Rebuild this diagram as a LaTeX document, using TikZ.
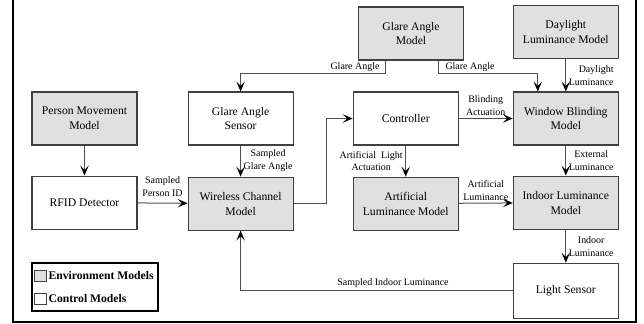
\documentclass[tikz,border=0pt]{standalone}
\usepackage{fontspec}
\setmainfont{Liberation Serif}
\usetikzlibrary{positioning,arrows.meta}
\definecolor{envgray}{HTML}{E0E0E0}
\definecolor{boxline}{HTML}{404040}
\definecolor{wire}{HTML}{505050}

\begin{document}
\begin{tikzpicture}[x=1bp,y=-1bp,
  env/.style={draw=boxline,fill=envgray,line width=1.1bp,inner sep=0pt,
              minimum width=105bp,minimum height=53bp,align=center,
              font=\fontsize{11.7}{15}\selectfont},
  ctl/.style={env,fill=white},
  lbl/.style={font=\fontsize{10}{13}\selectfont,text=black,inner sep=2.5bp,align=center},
  arr/.style={-{Stealth[length=10bp,width=8.5bp,inset=4.5bp,color=black]},wire,line width=1bp},
  swatch/.style={draw=boxline,line width=0.9bp,minimum width=12bp,minimum height=11bp,inner sep=0pt},
  legtxt/.style={font=\fontsize{11.7}{14}\selectfont\bfseries,inner sep=0pt}]
\useasboundingbox (0,0) rectangle (644,323);
% frame
\draw[line width=1.3bp] (13,0) -- (13,322) -- (636,322) -- (636,0);
% column 1
\node[env] (pmm) at (84.5,118.5) {Person Movement\\Model};
\node[ctl,below=30bp of pmm] (rfid) {RFID Detector};
% column 2
\node[ctl,right=50bp of pmm] (gas) {Glare Angle\\Sensor};
\node[env,below=31bp of gas] (wcm) {Wireless Channel\\Model};
% column 3
\node[env] (gam) at (411,33.5) {Glare Angle\\Model};
\node[ctl,right=59bp of gas] (ctrl) {Controller};
\node[env,below=31bp of ctrl] (alm) {Artificial\\Luminance Model};
% column 4
\node[env,right=54bp of ctrl] (wbm) {Window Blinding\\Model};
\node[env,above=32bp of wbm] (dlm) {Daylight\\Luminance Model};
\node[env,below=30bp of wbm] (ilm) {Indoor Luminance\\Model};
\node[ctl,below=33bp of ilm,minimum height=55bp] (ls) {Light Sensor};
% legend
\node[draw,line width=2bp,minimum width=126bp,minimum height=48bp,inner sep=0pt] (legend) at (95,287) {};
\node[swatch,fill=envgray,anchor=north west] (swenv) at ([xshift=3bp,yshift=-8bp]legend.north west) {};
\node[legtxt,right=1.5bp of swenv] (txenv) {Environment Models};
\node[swatch,fill=white,below=11bp of swenv] (swctl) {};
\node[legtxt,right=1.5bp of swctl] (txctl) {Control Models};
% arcs
\draw[arr] ([xshift=-26bp]gam.south) -- ++(0,13) node[lbl,anchor=south east,xshift=-4bp,inner sep=1bp] {Glare Angle} -| (gas.north);
\draw[arr] ([xshift=27bp]gam.south) -- ++(0,13) node[lbl,anchor=south west,xshift=6bp,inner sep=1bp] {Glare Angle} -| ([xshift=-28bp]wbm.north);
\draw[arr] (dlm) -- node[lbl,right,align=right] {Daylight\\Luminance} (wbm);
\draw[arr] (pmm) -- (rfid);
\draw[arr] (rfid) -- node[lbl,above,yshift=4bp] {Sampled\\Person ID} (wcm);
\draw[arr] (gas) -- node[lbl,right] {Sampled\\Glare Angle} (wcm);
\draw[arr] (wcm.east) -- ++(33,0) |- (ctrl.west);
\draw[arr] (ctrl) -- node[lbl,above] {Blinding\\Actuation} (wbm);
\draw[arr] (ctrl) -- node[lbl,left] {Artificial~~Light\\Actuation} (alm);
\draw[arr] (wbm) -- node[lbl,right] {External\\Luminance} (ilm);
\draw[arr] (alm) -- node[lbl,above] {Artificial\\Luminance} (ilm);
\draw[arr] (ilm) -- node[lbl,right] {Indoor\\Luminance} (ls);
\draw[arr] (ls.west) -| node[lbl,above,pos=0.22] {Sampled Indoor Luminance} (wcm.south);
\end{tikzpicture}
\end{document}
